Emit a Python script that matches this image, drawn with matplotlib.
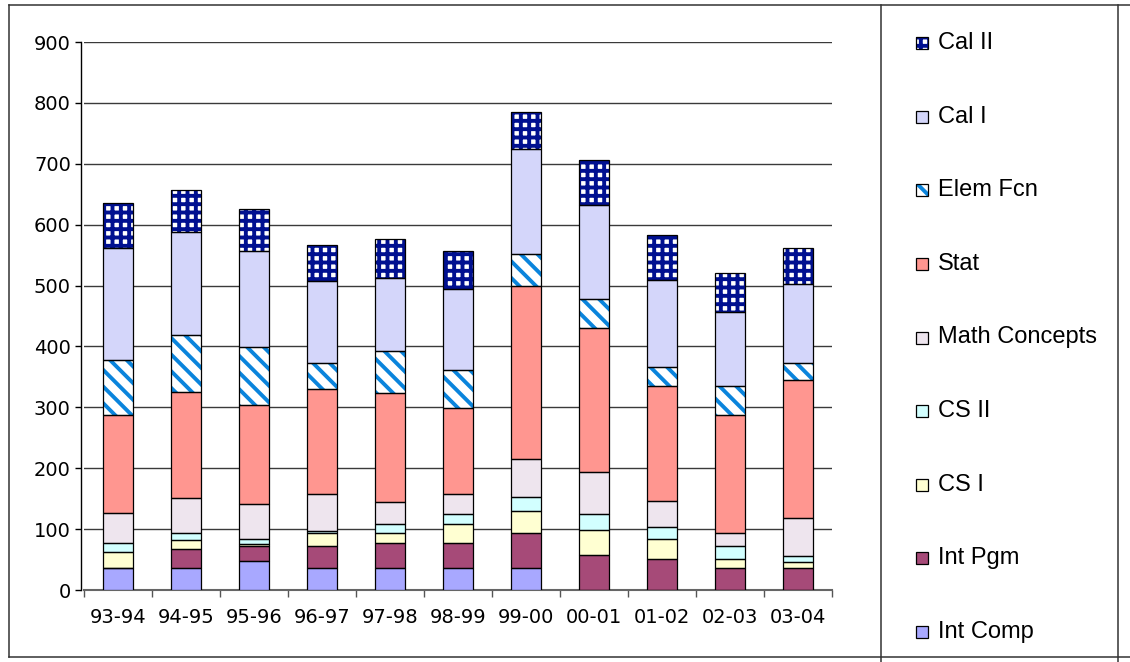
"""
Stacked enrollment bars per academic year, one segment per course.
Run: python plot.py
"""

import numpy as np
import matplotlib
matplotlib.use("Agg")
import matplotlib.pyplot as plt
from matplotlib.patches import Rectangle
from matplotlib.lines import Line2D

YEARS = ["93-94", "94-95", "95-96", "96-97", "97-98", "98-99",
         "99-00", "00-01", "01-02", "02-03", "03-04"]

# course enrollments, bottom of the stack first
INT_COMP      = [36, 36, 47, 36, 36, 36, 36, 0, 0, 0, 0]
INT_PGM       = [0, 31, 25, 36, 41, 41, 58, 57, 51, 36, 36]
CS_I          = [26, 15, 4, 21, 16, 32, 36, 42, 32, 15, 10]
CS_II         = [16, 11, 7, 4, 16, 16, 22, 26, 21, 22, 10]
MATH_CONCEPTS = [48, 58, 58, 60, 36, 32, 63, 68, 42, 21, 63]
STAT          = [162, 174, 163, 173, 179, 142, 284, 237, 189, 194, 226]
ELEM_FCN      = [90, 94, 95, 43, 68, 63, 53, 48, 32, 47, 27]
CAL_I         = [184, 169, 158, 135, 120, 132, 173, 155, 142, 121, 131]
CAL_II        = [74, 69, 69, 59, 65, 63, 60, 73, 74, 64, 59]

COURSES = ["Int Comp", "Int Pgm", "CS I", "CS II", "Math Concepts",
           "Stat", "Elem Fcn", "Cal I", "Cal II"]
VALUES  = [INT_COMP, INT_PGM, CS_I, CS_II, MATH_CONCEPTS,
           STAT, ELEM_FCN, CAL_I, CAL_II]

# (face, hatch, hatch colour)
STYLES = {
    "Int Comp":      ("#A8A8FF", None, None),
    "Int Pgm":       ("#A64A78", None, None),
    "CS I":          ("#FFFFD2", None, None),
    "CS II":         ("#D2FFFF", None, None),
    "Math Concepts": ("#EEE5EE", None, None),
    "Stat":          ("#FF9690", None, None),
    "Elem Fcn":      ("white", "\\\\", "#0A84DC"),
    "Cal I":         ("#D4D6FA", None, None),
    "Cal II":        ("white", "++", "#001090"),
}

W, H = 1130, 662
plt.rcParams["font.family"] = ["DejaVu Sans"]
plt.rcParams["hatch.linewidth"] = 2.8

fig = plt.figure(figsize=(W / 100, H / 100), dpi=100)
ax = fig.add_axes([84 / W, 1 - 590 / H, 748 / W, 548 / H])

x = np.arange(len(YEARS))
bar_w = 0.43
bottom = np.zeros(len(YEARS))

# ── stacked segments ──────────────────────────────────────────────────
for name, vals in zip(COURSES, VALUES):
    face, hatch, hcol = STYLES[name]
    vals = np.array(vals, dtype=float)
    if hatch:
        ax.bar(x, vals, bar_w, bottom=bottom, facecolor=face, hatch=hatch,
               edgecolor=hcol, linewidth=0, zorder=3)
    else:
        ax.bar(x, vals, bar_w, bottom=bottom, facecolor=face,
               linewidth=0, zorder=3)
    ax.bar(x, vals, bar_w, bottom=bottom, fill=False,
           edgecolor="black", linewidth=0.9, zorder=4)
    bottom += vals

# ── axes ──────────────────────────────────────────────────────────────
ax.set_xlim(-0.5, len(YEARS) - 0.5)
ax.set_ylim(0, 900)
ax.set_yticks(np.arange(0, 901, 100))
ax.yaxis.grid(True, color="#3a3a3a", linewidth=1.0, zorder=0)
ax.set_axisbelow(True)

ax.set_xticks(np.arange(len(YEARS) + 1) - 0.5)
ax.set_xticklabels([])
ax.set_xticks(x, minor=True)
ax.set_xticklabels(YEARS, minor=True)
ax.tick_params(axis="x", which="major", direction="out", length=5,
               width=1, color="#555555")
ax.tick_params(axis="x", which="minor", length=0, pad=13, labelsize=14)
ax.tick_params(axis="y", direction="out", length=4.5, width=1,
               pad=3, labelsize=14)

for side in ("top", "right"):
    ax.spines[side].set_visible(False)
ax.spines["left"].set_color("black")
ax.spines["left"].set_linewidth(1.0)
ax.spines["left"].set_position(("outward", 2))
ax.spines["bottom"].set_color("#666666")
ax.spines["bottom"].set_linewidth(1.5)

# ── legend, top item is the top of the stack ──────────────────────────
rows = np.linspace(43, 632, len(COURSES))
for y, name in zip(rows, COURSES[::-1]):
    face, hatch, hcol = STYLES[name]
    sw = Rectangle((916 / W, 1 - (y + 6) / H), 12 / W, 12 / H,
                   transform=fig.transFigure, facecolor=face,
                   hatch=hatch, edgecolor=hcol if hatch else "black",
                   linewidth=0 if hatch else 0.9)
    fig.add_artist(sw)
    if hatch:
        fig.add_artist(Rectangle((916 / W, 1 - (y + 6) / H), 12 / W, 12 / H,
                                 transform=fig.transFigure, fill=False,
                                 edgecolor="black", linewidth=0.9))
    fig.text(938 / W, 1 - y / H, name, va="center", ha="left",
             fontsize=17, family="Liberation Sans")

# ── frame lines around chart and legend ───────────────────────────────
frame = [((9, 9), (5, 657)), ((9, W), (5, 5)), ((9, W), (657, 657)),
         ((881, 881), (5, H)), ((1118, 1118), (5, H))]
for xs, ys in frame:
    fig.add_artist(Line2D([v / W for v in xs], [1 - v / H for v in ys],
                          transform=fig.transFigure, color="#333333",
                          linewidth=1.1))

plt.savefig("out.png", dpi=100)
